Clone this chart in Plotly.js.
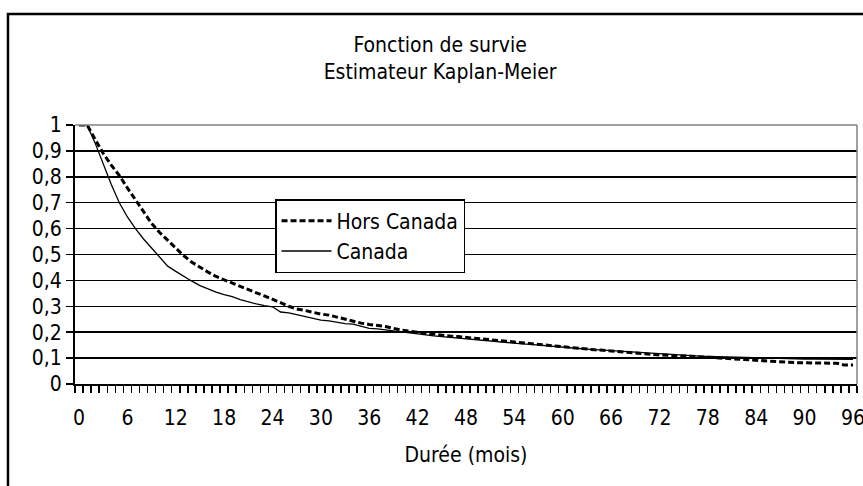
<!DOCTYPE html>
<html>
<head>
<meta charset="utf-8">
<script src="https://cdn.plot.ly/plotly-3.0.1.min.js"></script>
<style>html,body{margin:0;padding:0;background:#fff;}#chart{width:863px;height:486px;}</style>
</head>
<body>
<div id="chart"></div>
<script>
var months = [0,1,2,3,4,5,6,7,8,9,10,11,12,13,14,15,16,17,18,19,20,21,22,23,24,25,26,27,28,29,30,31,32,33,34,35,36,37,38,39,40,41,42,43,44,45,46,47,48,49,50,51,52,53,54,55,56,57,58,59,60,61,62,63,64,65,66,67,68,69,70,71,72,73,74,75,76,77,78,79,80,81,82,83,84,85,86,87,88,89,90,91,92,93,94,95,96];

var horsCanada = [1.0,1.0,0.945,0.89,0.845,0.805,0.757,0.71,0.665,0.62,
  0.585,0.555,0.522,0.495,0.47,0.45,0.432,0.415,0.402,0.388,
  0.375,0.364,0.352,0.34,0.328,0.314,0.3,0.29,0.284,0.276,
  0.27,0.266,0.258,0.25,0.242,0.235,0.23,0.226,0.222,0.215,
  0.208,0.204,0.2,0.197,0.192,0.188,0.185,0.183,0.18,0.176,
  0.172,0.169,0.166,0.163,0.161,0.158,0.155,0.152,0.15,0.147,
  0.143,0.14,0.138,0.135,0.132,0.13,0.127,0.124,0.121,0.118,
  0.116,0.114,0.112,0.11,0.109,0.108,0.107,0.105,0.103,0.101,
  0.099,0.097,0.095,0.093,0.09,0.089,0.088,0.086,0.084,0.082,
  0.082,0.082,0.081,0.081,0.08,0.073,0.073];

var canada = [1.0,1.0,0.93,0.85,0.77,0.70,0.645,0.60,0.56,0.525,
  0.49,0.455,0.435,0.415,0.397,0.38,0.366,0.355,0.345,0.337,
  0.326,0.316,0.309,0.303,0.298,0.278,0.275,0.268,0.26,0.253,
  0.247,0.244,0.238,0.233,0.231,0.222,0.215,0.213,0.209,0.204,
  0.2,0.197,0.193,0.189,0.186,0.183,0.18,0.177,0.174,0.171,
  0.168,0.165,0.163,0.16,0.157,0.155,0.153,0.15,0.148,0.145,
  0.142,0.14,0.137,0.135,0.133,0.131,0.129,0.127,0.125,0.122,
  0.119,0.118,0.117,0.115,0.112,0.11,0.109,0.108,0.107,0.106,
  0.105,0.104,0.102,0.101,0.1,0.1,0.099,0.098,0.097,0.097,
  0.096,0.096,0.096,0.095,0.095,0.095,0.095];

var xTickVals = [0,6,12,18,24,30,36,42,48,54,60,66,72,78,84,90,96];
var xTickLabels = ['0','6','12','18','24','30','36','42','48','54','60','66','72','78','84','90','96'];

var FONT = 'DejaVu Sans Condensed, DejaVu Sans, sans-serif';
var FS = 21;

var traces = [
  {x: months, y: horsCanada, type: 'scatter', mode: 'lines', name: 'Hors Canada',
   line: {color: '#000', width: 3, dash: '6px,3px'}},
  {x: months, y: canada, type: 'scatter', mode: 'lines', name: 'Canada',
   line: {color: '#000', width: 1.3}}
];

var layout = {
  width: 863, height: 486,
  margin: {l: 75, r: 6, t: 125, b: 102},
  paper_bgcolor: '#fff', plot_bgcolor: '#fff',
  separators: ', ',
  font: {family: FONT, size: FS, color: '#000'},
  title: {text: 'Fonction de survie<br>Estimateur Kaplan-Meier', font: {family: FONT, size: FS, color: '#000'},
          x: 0.51, xanchor: 'center', y: 0.893, yanchor: 'top'},
  showlegend: true,
  legend: {x: 0.2558, y: 0.714, xanchor: 'left', yanchor: 'top', bgcolor: '#fff',
           bordercolor: '#000', borderwidth: 1.5, font: {family: FONT, size: FS, color: '#000'},
           itemwidth: 50, tracegroupgap: 0},
  xaxis: {range: [-0.5, 96.5], tickmode: 'array', tickvals: xTickVals, ticktext: xTickLabels,
          ticks: '', showgrid: false, zeroline: false, showline: true, linecolor: '#000', linewidth: 2,
          ticklabelstandoff: 14, ticklabeloverflow: 'allow', tickfont: {family: FONT, size: FS, color: '#000'},
          minor: {tick0: -0.5, dtick: 1, ticks: 'outside', ticklen: 7, tickwidth: 1.5, tickcolor: '#000', showgrid: false},
          title: {text: 'Durée (mois)', font: {family: FONT, size: FS, color: '#000'}, standoff: 18}},
  yaxis: {range: [0, 1], dtick: 0.1, tick0: 0, ticks: 'outside', ticklen: 7, tickwidth: 1.5, tickcolor: '#000',
          showgrid: true, gridcolor: '#000', gridwidth: 1.5, zeroline: false,
          showline: true, linecolor: '#000', linewidth: 2,
          tickfont: {family: FONT, size: FS, color: '#000'}},
  shapes: [
    {type: 'line', xref: 'paper', yref: 'paper', x0: 0, x1: 1, y0: 1, y1: 1, line: {color: '#808080', width: 1.5}, layer: 'above'},
    {type: 'line', xref: 'paper', yref: 'paper', x0: 1, x1: 1, y0: 0, y1: 1, line: {color: '#808080', width: 1.5}, layer: 'above'},
    {type: 'rect', xref: 'paper', yref: 'paper', x0: -0.0857, x1: 1.1, y0: -0.6, y1: 1.4286, line: {color: '#000', width: 2.5}, fillcolor: 'rgba(0,0,0,0)', layer: 'above'}
  ]
};

Plotly.newPlot('chart', traces, layout, {staticPlot: true, displayModeBar: false});
</script>
</body>
</html>
